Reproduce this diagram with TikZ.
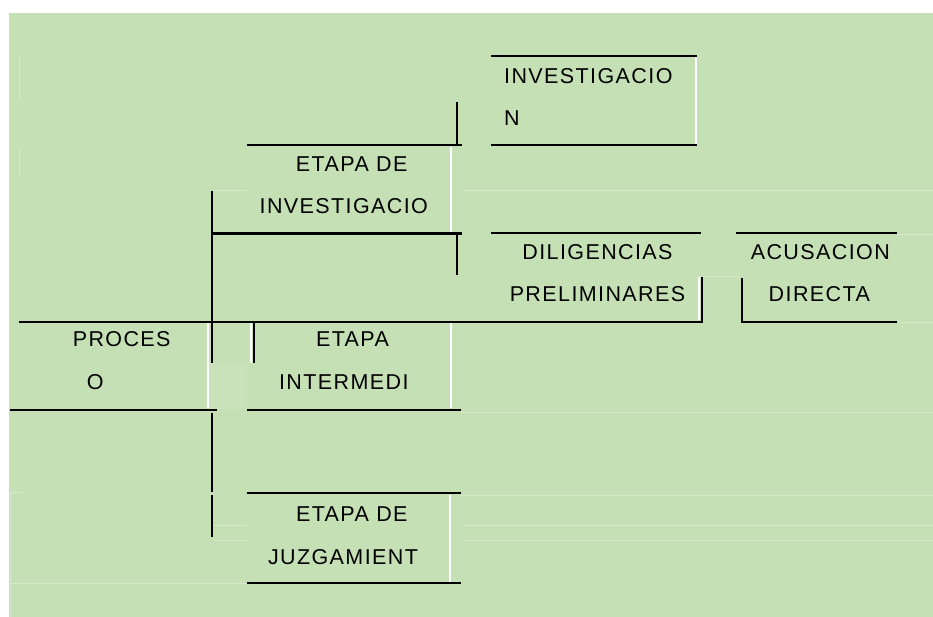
\documentclass[tikz,border=0pt]{standalone}
\usepackage{fontspec}
\setmainfont{Liberation Sans}[LetterSpace=6.5]
\definecolor{bggreen}{HTML}{C5E0B4}
\begin{document}
\begin{tikzpicture}[x=1pt,y=-1pt,
  bl/.style={line width=2.1pt, black},
  wl/.style={line width=2pt, white},
  fl/.style={line width=0.7pt, white, opacity=0.3},
  lbl/.style={inner sep=0pt, anchor=base, font=\fontsize{21.5}{24}\selectfont},
  lbll/.style={lbl, anchor=base west}]
\useasboundingbox (0,0) rectangle (933,617);
\fill[white] (0,0) rectangle (933,617);
\fill[bggreen] (9,13) rectangle (933,617);
% lighter patch
\fill[white, opacity=0.07] (206.7,363.3) rectangle (246.7,410);
% faint cell borders
\draw[fl] (461.7,190) -- (933,190);
\draw[fl] (213,190) -- (247,190);
\draw[fl] (461,412.7) -- (933,412.7);
\draw[fl] (461,495) -- (933,495);
\draw[fl] (462,525.7) -- (933,525.7);
\draw[fl] (462,540) -- (933,540);
\draw[fl] (213,525.7) -- (247,525.7);
\draw[fl] (213,540) -- (247,540);
\draw[fl] (900,322.3) -- (933,322.3);
\draw[fl] (897,234) -- (933,234);
\draw[fl] (700,276.7) -- (740,276.7);
\draw[fl] (19.3,148) -- (19.3,177);
\draw[fl] (19.3,55) -- (19.3,100);
\draw[fl] (10,583.3) -- (246,583.3);
\draw[fl] (10,492.7) -- (22,492.7);
\draw[fl] (10,493) -- (10,617);
% white verticals
\draw[wl] (696,56) -- (696,145);
\draw[wl] (450.7,146.7) -- (450.7,232);
\draw[wl] (699,277) -- (699,320);
\draw[wl] (207.5,322.7) -- (207.5,408.3);
\draw[wl] (251,322.7) -- (251,363);
\draw[wl] (450.7,322.7) -- (450.7,408.3);
\draw[wl] (450,495) -- (450,582);
% black borders
\draw[bl] (491,55.7) -- (697,55.7);
\draw[bl] (491,145.3) -- (697,145.3);
\draw[bl] (457.3,101.7) -- (457.3,145.3);
\draw[bl] (246.7,145.3) -- (461.7,145.3);
\draw[bl] (212.3,233.5) -- (461.7,233.5);
\draw[bl] (457.3,233.5) -- (457.3,275);
\draw[bl] (491,233) -- (700.7,233);
\draw[bl] (702.3,277) -- (702.3,321.7);
\draw[bl] (19.3,321.7) -- (703,321.7);
\draw[bl] (736,233) -- (896.7,233);
\draw[bl] (741.7,278) -- (741.7,322) -- (896.7,322);
\draw[bl] (212.3,191) -- (212.3,363.3);
\draw[bl] (253.7,321.7) -- (253.7,363.3);
\draw[bl] (10,410) -- (216.7,410);
\draw[bl] (246.7,410) -- (461,410);
\draw[bl] (212.3,413) -- (212.3,491.7);
\draw[bl] (212.3,495) -- (212.3,537.3);
\draw[bl] (246.7,493.3) -- (461,493.3);
\draw[bl] (246.7,583.3) -- (461,583.3);
% texts
\node[lbll] (inv1) at (504,83.3) {INVESTIGACIO};
\node[lbll] (inv2) at (504,125.7) {N};
\node[lbl] (ei1) at (351.7,171.7) {ETAPA DE};
\node[lbl] (ei2) at (343.8,213.3) {INVESTIGACIO};
\node[lbl] (dp1) at (597.5,259.3) {DILIGENCIAS};
\node[lbl] (dp2) at (597.5,301.7) {PRELIMINARES};
\node[lbl] (ad1) at (820.3,259.3) {ACUSACION};
\node[lbl] (ad2) at (819.3,301.7) {DIRECTA};
\node[lbl] (pr1) at (121.7,346.7) {PROCES};
\node[lbl] (pr2) at (95.2,389.3) {O};
\node[lbl] (et1) at (352.5,346.7) {ETAPA};
\node[lbl] (et2) at (343.8,389.3) {INTERMEDI};
\node[lbl] (ej1) at (351.8,521.7) {ETAPA DE};
\node[lbl] (ej2) at (343,564) {JUZGAMIENT};
\end{tikzpicture}
\end{document}
